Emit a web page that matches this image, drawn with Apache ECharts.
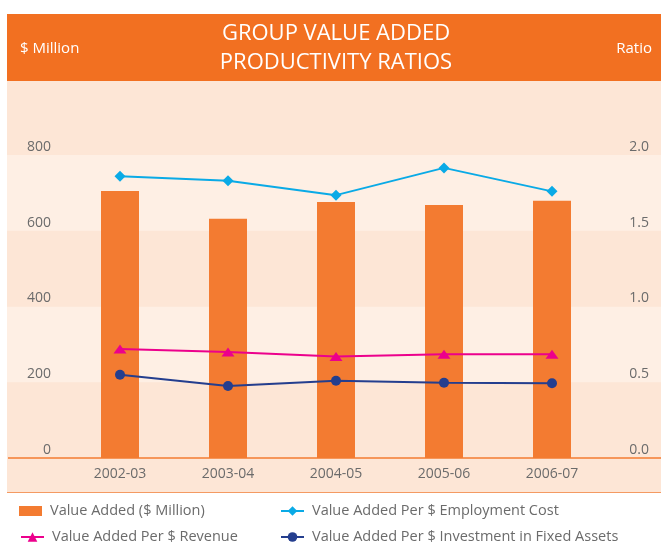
<!DOCTYPE html>
<html>
<head>
<meta charset="utf-8">
<script src="https://cdn.jsdelivr.net/npm/echarts@6/dist/echarts.min.js"></script>
<style>
html,body{margin:0;padding:0;background:#fff;}
#chart{width:661px;height:547px;}
</style>
</head>
<body>
<div id="chart"></div>
<script>
var categories = ['2002-03', '2003-04', '2004-05', '2005-06', '2006-07'];
var valueAdded = [705, 632, 676, 668, 679];
var perEmploymentCost = [1.86, 1.83, 1.735, 1.915, 1.76];
var perRevenue = [0.72, 0.70, 0.67, 0.685, 0.685];
var perFixedAssets = [0.55, 0.475, 0.51, 0.497, 0.493];
var leftTicks = [0, 200, 400, 600, 800];
var rightTicks = [0, 0.5, 1.0, 1.5, 2.0];

var names = ['Value Added ($ Million)', 'Value Added Per $ Employment Cost', 'Value Added Per $ Revenue', 'Value Added Per $ Investment in Fixed Assets'];
var FONT = '"Open Sans", "Noto Sans", sans-serif';
var TITLEFONT = '"Open Sans", "Noto Sans", sans-serif';
var colors = { bar: '#F37B31', emp: '#0AAAE6', rev: '#EC008C', fix: '#243E8E' };
var DARK = '#FDE6D6', LIGHT = '#FEEFE4';

var chart = echarts.init(document.getElementById('chart'), null, { renderer: 'canvas' });

function legendAt(left, top, name, icon, h) {
  return {
    left: left, top: top, orient: 'horizontal', padding: 0,
    data: [{ name: name, icon: icon }],
    itemWidth: 23, itemHeight: h,
    selectedMode: false,
    textStyle: { fontFamily: FONT, fontSize: 14.5, color: '#6b6b6b', padding: [0, 0, 0, 3], lineHeight: 16 }
  };
}

var baseGraphic = [
  { id: 'bg', type: 'rect', z: -10, silent: true, shape: { x: 7, y: 81, width: 654, height: 412 }, style: { fill: DARK } },
  { id: 'hdr', type: 'rect', z: -9, silent: true, shape: { x: 7, y: 14, width: 654, height: 67 }, style: { fill: '#F27021' } },
  { id: 'axl', type: 'line', z: 10, silent: true, shape: { x1: 8, y1: 458, x2: 661, y2: 458 }, style: { stroke: '#F37B31', lineWidth: 1.5 } },
  { id: 'btl', type: 'line', z: 10, silent: true, shape: { x1: 7, y1: 492.5, x2: 661, y2: 492.5 }, style: { stroke: '#F49A62', lineWidth: 1 } },
  { id: 't1', type: 'text', z: 11, silent: true, style: { x: 336, y: 34, text: 'GROUP VALUE ADDED', fill: '#ffffff', font: '22px ' + TITLEFONT, textAlign: 'center', textVerticalAlign: 'middle' } },
  { id: 't2', type: 'text', z: 11, silent: true, style: { x: 336, y: 63, text: 'PRODUCTIVITY RATIOS', fill: '#ffffff', font: '22px ' + TITLEFONT, textAlign: 'center', textVerticalAlign: 'middle' } },
  { id: 't3', type: 'text', z: 11, silent: true, style: { x: 20, y: 49, text: '$ Million', fill: '#ffffff', font: '15px ' + TITLEFONT, textAlign: 'left', textVerticalAlign: 'middle' } },
  { id: 't4', type: 'text', z: 11, silent: true, style: { x: 652, y: 49, text: 'Ratio', fill: '#ffffff', font: '15px ' + TITLEFONT, textAlign: 'right', textVerticalAlign: 'middle' } }
];

var option = {
  animation: false,
  backgroundColor: '#ffffff',
  graphic: baseGraphic,
  legend: [
    legendAt(19, 503, names[0], 'rect', 10),
    legendAt(280, 503, names[1], null, 12),
    legendAt(20, 529, names[2], null, 12),
    legendAt(280, 529, names[3], null, 12)
  ],
  grid: { left: 66, right: 55, top: 155, bottom: 89 },
  xAxis: {
    type: 'category',
    data: categories,
    axisLine: { show: false },
    axisTick: { show: false },
    axisLabel: { fontFamily: FONT, fontSize: 14, color: '#6b6b6b', margin: 9 }
  },
  yAxis: [
    {
      type: 'value', min: 0, max: 800, interval: 200,
      axisLine: { show: false }, axisTick: { show: false },
      splitLine: { show: false }, splitArea: { show: false },
      axisLabel: { fontFamily: FONT, fontSize: 14, color: '#6b6b6b', margin: 15, verticalAlign: 'bottom', padding: [0, 0, 1, 0],
        formatter: function (v) { return leftTicks.indexOf(v) >= 0 ? String(v) : ''; } }
    },
    {
      type: 'value', min: 0, max: 2, interval: 0.5,
      axisLine: { show: false }, axisTick: { show: false },
      splitLine: { show: false }, splitArea: { show: false },
      axisLabel: { fontFamily: FONT, fontSize: 14, color: '#6b6b6b', margin: 43, align: 'right', verticalAlign: 'bottom', padding: [0, 0, 1, 0],
        formatter: function (v) { return rightTicks.indexOf(v) >= 0 ? v.toFixed(1) : ''; } }
    }
  ],
  series: [
    { name: names[0], type: 'bar', data: valueAdded, barWidth: 38, itemStyle: { color: colors.bar }, yAxisIndex: 0 },
    { name: names[1], type: 'line', data: perEmploymentCost, yAxisIndex: 1, symbol: 'diamond', symbolSize: 11,
      lineStyle: { color: colors.emp, width: 2 }, itemStyle: { color: colors.emp } },
    { name: names[2], type: 'line', data: perRevenue, yAxisIndex: 1, symbol: 'triangle', symbolSize: [13, 9],
      lineStyle: { color: colors.rev, width: 2 }, itemStyle: { color: colors.rev } },
    { name: names[3], type: 'line', data: perFixedAssets, yAxisIndex: 1, symbol: 'circle', symbolSize: 10,
      lineStyle: { color: colors.fix, width: 2 }, itemStyle: { color: colors.fix } }
  ]
};
chart.setOption(option);

// full-width alternating stripes aligned to the left axis ticks
var stripes = [];
for (var i = 0; i < leftTicks.length - 1; i++) {
  var y0 = chart.convertToPixel({ yAxisIndex: 0 }, leftTicks[i]);
  var y1 = chart.convertToPixel({ yAxisIndex: 0 }, leftTicks[i + 1]);
  stripes.push({ id: 'stripe' + i, type: 'rect', z: -8, silent: true,
    shape: { x: 7, y: Math.min(y0, y1), width: 654, height: Math.abs(y0 - y1) },
    style: { fill: i % 2 === 0 ? DARK : LIGHT } });
}
chart.setOption({ graphic: baseGraphic.concat(stripes) });
</script>
</body>
</html>
